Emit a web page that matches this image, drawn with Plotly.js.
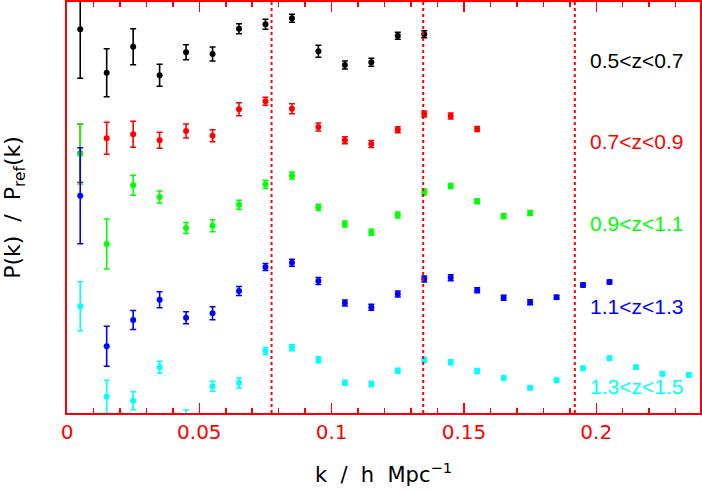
<!DOCTYPE html>
<html>
<head>
<meta charset="utf-8">
<script src="https://cdn.plot.ly/plotly-3.0.1.min.js"></script>
<style>html,body{margin:0;padding:0;background:#fff;}#chart{width:702px;height:491px;}</style>
</head>
<body>
<div id="chart"></div>
<script>
// k bins (h/Mpc)
const kBlack = [0.005,0.015,0.025,0.035,0.045,0.055,0.065,0.075,0.085,0.095,0.105,0.115,0.125,0.135];
const kRed   = [0.005,0.015,0.025,0.035,0.045,0.055,0.065,0.075,0.085,0.095,0.105,0.115,0.125,0.135,0.145,0.155];
const kGreen = [0.005,0.015,0.025,0.035,0.045,0.055,0.065,0.075,0.085,0.095,0.105,0.115,0.125,0.135,0.145,0.155,0.165,0.175];
const kBlue  = [0.005,0.015,0.025,0.035,0.045,0.055,0.065,0.075,0.085,0.095,0.105,0.115,0.125,0.135,0.145,0.155,0.165,0.175,0.185,0.195,0.205];
const kCyan  = [0.005,0.015,0.025,0.035,0.045,0.055,0.065,0.075,0.085,0.095,0.105,0.115,0.125,0.135,0.145,0.155,0.165,0.175,0.185,0.195,0.205,0.215,0.225,0.235];

// P(k)/Pref(k), vertically offset (arbitrary units)
const yBlack = [3.837,3.403,3.663,3.377,3.607,3.590,3.843,3.887,3.948,3.617,3.480,3.507,3.773,3.787];
const eBlack = [0.49,0.24,0.18,0.11,0.075,0.07,0.05,0.05,0.04,0.06,0.04,0.04,0.035,0.035];
const yRed   = [2.597,2.747,2.787,2.727,2.820,2.773,3.037,3.117,3.042,2.860,2.727,2.690,2.833,2.990,2.970,2.840];
const eRed   = [0.29,0.16,0.13,0.08,0.07,0.06,0.065,0.04,0.05,0.04,0.035,0.035,0.03,0.03,0.03,0.025];
const yGreen = [2.590,1.690,2.277,2.160,1.850,1.873,2.083,2.287,2.375,2.057,1.890,1.807,1.980,2.210,2.270,2.117,1.967,2.000];
const eGreen = [0.30,0.25,0.10,0.06,0.055,0.06,0.045,0.04,0.035,0.03,0.03,0.03,0.03,0.03,0.025,0.025,0.025,0.025];
const yBlue  = [2.173,0.667,0.930,1.133,0.953,0.997,1.220,1.460,1.502,1.320,1.100,1.057,1.190,1.340,1.353,1.227,1.153,1.107,1.157,1.280,1.310];
const eBlue  = [0.48,0.20,0.095,0.08,0.06,0.065,0.045,0.035,0.035,0.035,0.03,0.03,0.03,0.03,0.03,0.025,0.025,0.025,0.02,0.02,0.02];
const yCyan  = [1.067,0.163,0.123,0.457,-0.030,0.267,0.300,0.620,0.653,0.533,0.303,0.290,0.423,0.530,0.507,0.420,0.350,0.253,0.327,0.447,0.547,0.457,0.393,0.380];
const eCyan  = [0.245,0.165,0.09,0.06,0.06,0.05,0.05,0.035,0.03,0.03,0.025,0.025,0.025,0.025,0.025,0.025,0.02,0.02,0.02,0.02,0.02,0.02,0.02,0.02];

const zLabels = ["0.5<z<0.7","0.7<z<0.9","0.9<z<1.1","1.1<z<1.3","1.3<z<1.5"];
const zLabelY = [3.53,2.72,1.90,1.07,0.263];
const colors  = ["#000000","#ff0000","#00ff00","#0000ff","#00ffff"];
const vLines  = [0.0773,0.1346,0.1919];
const xTickVals = [0,0.05,0.1,0.15,0.2];
const xTickText = ["0","0.05","0.1","0.15","0.2"];

const series = [[kBlack,yBlack,eBlack],[kRed,yRed,eRed],[kGreen,yGreen,eGreen],[kBlue,yBlue,eBlue],[kCyan,yCyan,eCyan]];
const traces = series.map((s,i)=>({
  x:s[0], y:s[1], type:'scatter', mode:'markers',
  marker:{color:colors[i], size:6},
  error_y:{type:'data', array:s[2], visible:true, color:colors[i], thickness:1.6, width:3},
  showlegend:false, cliponaxis:true, hoverinfo:'skip'
}));

const NB = '\u00a0';
const S2 = NB+NB;
const layout = {
  width:702, height:491,
  margin:{l:67, r:2, t:2, b:78},
  paper_bgcolor:'#fff', plot_bgcolor:'#fff',
  xaxis:{
    range:[0,0.2392], showgrid:false, zeroline:false,
    showline:true, linecolor:'#ff0000', linewidth:2, mirror:'ticks',
    ticks:'inside', ticklen:10, tickwidth:1.5, tickcolor:'#ff0000',
    tickvals:xTickVals, ticktext:xTickText,
    tickfont:{family:'DejaVu Sans', size:20, color:'#ff0000'},
    minor:{dtick:0.01, tick0:0, ticks:'inside', ticklen:5, tickwidth:1.5, tickcolor:'#ff0000', showgrid:false},
    title:{text:'k'+S2+'/'+S2+'h'+S2+'Mpc<sup>\u22121</sup>', font:{family:'DejaVu Sans', size:21, color:'#000'}, standoff:24}
  },
  yaxis:{
    range:[0,4.11], showgrid:false, zeroline:false,
    showline:true, linecolor:'#ff0000', linewidth:2, mirror:true,
    ticks:'', showticklabels:false,
    title:{text:'P(k)'+S2+'/'+S2+'P<sub>ref</sub>(k)', font:{family:'DejaVu Sans', size:22, color:'#000'}, standoff:40}
  },
  shapes: vLines.map(v=>({type:'line', xref:'x', yref:'paper', x0:v, x1:v, y0:0, y1:1, line:{color:'#ff0000', width:2, dash:'dot'}})),
  annotations: zLabels.map((t,i)=>({
    text:t, x:0.1969, y:zLabelY[i], xref:'x', yref:'y', xanchor:'left', yanchor:'middle',
    showarrow:false, font:{family:'Liberation Sans', size:21, color:colors[i]}
  }))
};

Plotly.newPlot('chart', traces, layout, {displayModeBar:false, staticPlot:true});
</script>
</body>
</html>
